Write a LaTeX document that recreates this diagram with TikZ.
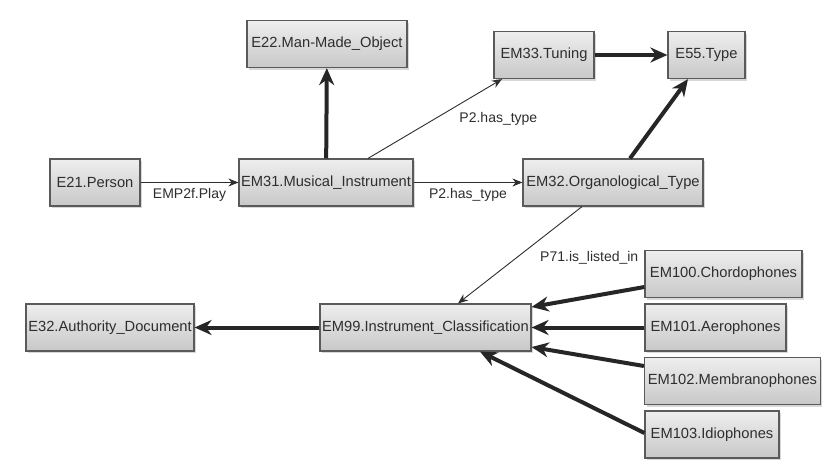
\documentclass[tikz,border=0pt]{standalone}
\usepackage{fontspec}
\setmainfont{Liberation Sans}
\usepackage{tikz}
\usetikzlibrary{arrows.meta,shadows,calc}
\definecolor{grisBord}{HTML}{5A5A5A}
\definecolor{grisTexte}{HTML}{2E2E2E}
\definecolor{grisHaut}{HTML}{EEEEEE}
\definecolor{grisBas}{HTML}{C8C8C8}
\tikzset{
  entite/.style={
    rectangle, draw=grisBord, line width=1.2pt,
    top color=grisHaut, bottom color=grisBas,
    drop shadow={shadow xshift=2pt, shadow yshift=-2pt, opacity=0.3},
    text=grisTexte, font=\fontsize{14.7}{17}\selectfont,
    inner sep=0pt, minimum height=47pt},
  lien/.style={-{Stealth[length=10pt,width=8pt]}, draw=grisTexte, line width=0.9pt},
  lienFort/.style={-{Stealth[length=17pt,width=15pt]}, draw=black!85, line width=4pt},
  etiquette/.style={font=\fontsize{14}{16}\selectfont, text=grisTexte, inner sep=2pt}
}

\begin{document}
\begin{tikzpicture}[x=1pt,y=-1pt]

  \fill[white] (0,0) rectangle (822,464);
  \useasboundingbox (0,0) rectangle (822,464);

  % --- Rang superieur
  \node[entite, minimum width=160pt] (E22) at (327,  44)   {E22.Man-Made\_Object};
  \node[entite, minimum width=100pt] (EM33) at (544, 55)   {EM33.Tuning};
  \node[entite, minimum width=77pt]  (E55) at (706.5, 55)  {E55.Type};

  % --- Rang median : personne et instrument
  \node[entite, minimum width=90pt]  (E21)  at ( 95, 182.5) {E21.Person};
  \node[entite, minimum width=174pt] (EM31) at (326, 182.5) {EM31.Musical\_Instrument};
  \node[entite, minimum width=180pt] (EM32) at (613, 182.5) {EM32.Organological\_Type};

  % --- Rang inferieur : classification
  \node[entite, minimum width=168pt] (E32)  at (110,   327.5) {E32.Authority\_Document};
  \node[entite, minimum width=211pt] (EM99) at (425.5, 327.5) {EM99.Instrument\_Classification};

  % --- Familles d'instruments
  \node[entite, minimum width=157pt] (EM100) at (723.5, 274)   {EM100.Chordophones};
  \node[entite, minimum width=141pt] (EM101) at (715.5, 327.5) {EM101.Aerophones};
  \node[entite, minimum width=176pt] (EM102) at (732.5, 381)   {EM102.Membranophones};
  \node[entite, minimum width=134pt] (EM103) at (712,   434.5) {EM103.Idiophones};

  % --- Proprietes
  \draw[lien] (E21) -- node[etiquette, below=3pt] {EMP2f.Play} (EM31);
  \draw[lien] (EM31) -- node[etiquette, below=3pt] {P2.has\_type} (EM32);
  \draw[lien] ([xshift=42pt]EM31.north) -- node[etiquette, anchor=west, xshift=22pt] {P2.has\_type} ([xshift=-42pt]EM33.south);
  \draw[lien] ([xshift=-31pt]EM32.south) -- node[etiquette, pos=0.526, anchor=west, xshift=21pt] {P71.is\_listed\_in} ([xshift=32.5pt]EM99.north);

  % --- Sous-classes
  \draw[lienFort] (EM31) -- (E22);
  \draw[lienFort] (EM33) -- (E55);
  \draw[lienFort] ([xshift=17pt]EM32.north) -- ([xshift=-18.5pt]E55.south);
  \draw[lienFort] (EM99) -- (E32);
  \draw[lienFort] ([yshift=-13pt]EM100.west) -- ([yshift=20.5pt]EM99.east);
  \draw[lienFort] (EM101) -- (EM99);
  \draw[lienFort] ([yshift=15pt]EM102.west) -- ([yshift=-19.5pt]EM99.east);
  \draw[lienFort] ([yshift=1.5pt]EM103.west) -- ([xshift=54.5pt]EM99.south);

\end{tikzpicture}
\end{document}
